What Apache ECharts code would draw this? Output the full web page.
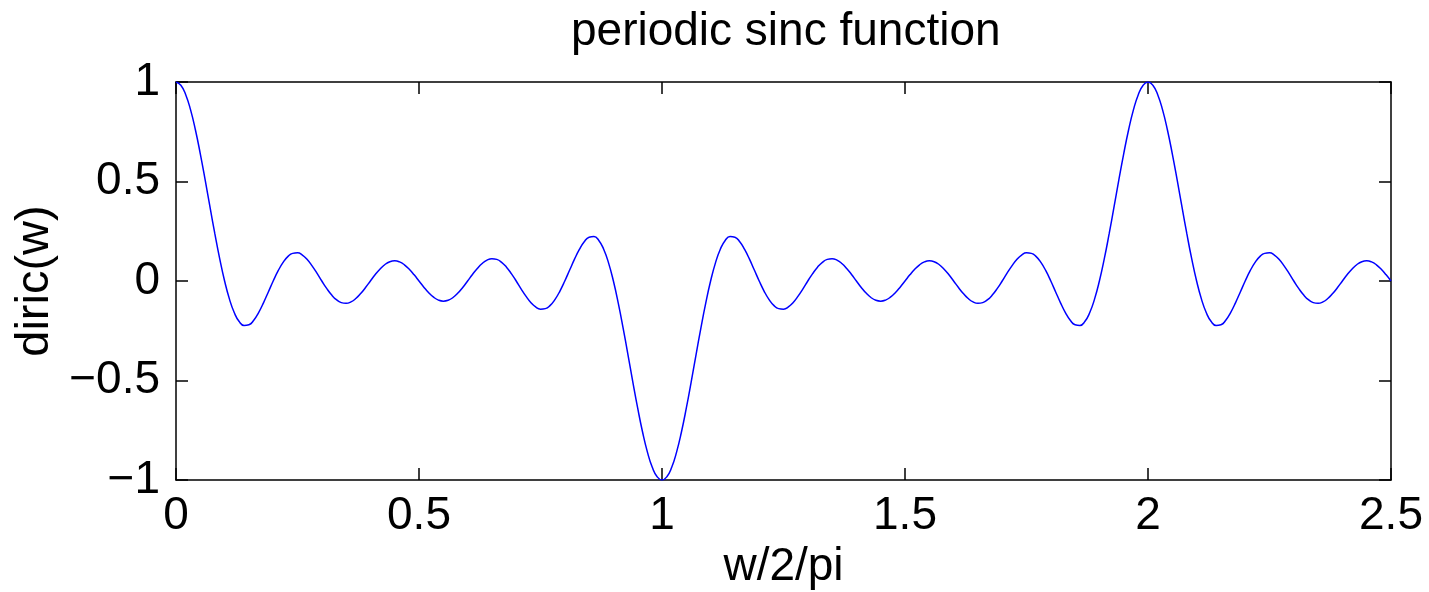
<!DOCTYPE html>
<html><head><meta charset="utf-8">
<script src="https://cdn.jsdelivr.net/npm/echarts@6/dist/echarts.min.js"></script>
<style>html,body{margin:0;padding:0;background:#fff}#c{width:1429px;height:592px}</style>
</head><body><div id="c"></div><script>
// sample spacing of the curve along w/2/pi
var xStart = 0, xStep = 0.01;
// diric(w) values, in five consecutive stretches of 0.5
var seg0to05 = [1,0.9838,0.9361,0.8597,0.7588,0.6392,0.5076,0.3709,0.2364,0.1108,0,-0.0912,-0.1597,-0.2037,-0.2234,-0.2203,-0.1974,-0.1589,-0.1097,-0.0550,0,0.0504,0.0922,0.1223,0.1389,0.1414,0.1305,0.1079,0.0763,0.0391,0,-0.0374,-0.0696,-0.0940,-0.1085,-0.1122,-0.1051,-0.0882,-0.0632,-0.0328,0,0.0322,0.0607,0.0829,0.0968,0.1012,0.0959,0.0813,0.0589,0.0309,0];
var seg05to1 = [-0.0309,-0.0589,-0.0813,-0.0959,-0.1012,-0.0968,-0.0829,-0.0607,-0.0322,0,0.0328,0.0632,0.0882,0.1051,0.1122,0.1085,0.0940,0.0696,0.0374,0,-0.0391,-0.0763,-0.1079,-0.1305,-0.1414,-0.1389,-0.1223,-0.0922,-0.0504,0,0.0550,0.1097,0.1589,0.1974,0.2203,0.2234,0.2037,0.1597,0.0912,0,-0.1108,-0.2364,-0.3709,-0.5076,-0.6392,-0.7588,-0.8597,-0.9361,-0.9838,-1];
var seg1to15 = [-0.9838,-0.9361,-0.8597,-0.7588,-0.6392,-0.5076,-0.3709,-0.2364,-0.1108,0,0.0912,0.1597,0.2037,0.2234,0.2203,0.1974,0.1589,0.1097,0.0550,0,-0.0504,-0.0922,-0.1223,-0.1389,-0.1414,-0.1305,-0.1079,-0.0763,-0.0391,0,0.0374,0.0696,0.0940,0.1085,0.1122,0.1051,0.0882,0.0632,0.0328,0,-0.0322,-0.0607,-0.0829,-0.0968,-0.1012,-0.0959,-0.0813,-0.0589,-0.0309,0];
var seg15to2 = [0.0309,0.0589,0.0813,0.0959,0.1012,0.0968,0.0829,0.0607,0.0322,0,-0.0328,-0.0632,-0.0882,-0.1051,-0.1122,-0.1085,-0.0940,-0.0696,-0.0374,0,0.0391,0.0763,0.1079,0.1305,0.1414,0.1389,0.1223,0.0922,0.0504,0,-0.0550,-0.1097,-0.1589,-0.1974,-0.2203,-0.2234,-0.2037,-0.1597,-0.0912,0,0.1108,0.2364,0.3709,0.5076,0.6392,0.7588,0.8597,0.9361,0.9838,1];
var seg2to25 = [0.9838,0.9361,0.8597,0.7588,0.6392,0.5076,0.3709,0.2364,0.1108,0,-0.0912,-0.1597,-0.2037,-0.2234,-0.2203,-0.1974,-0.1589,-0.1097,-0.0550,0,0.0504,0.0922,0.1223,0.1389,0.1414,0.1305,0.1079,0.0763,0.0391,0,-0.0374,-0.0696,-0.0940,-0.1085,-0.1122,-0.1051,-0.0882,-0.0632,-0.0328,0,0.0322,0.0607,0.0829,0.0968,0.1012,0.0959,0.0813,0.0589,0.0309,0];
var xTicks = [0, 0.5, 1, 1.5, 2, 2.5];
var yTicks = [-1, -0.5, 0, 0.5, 1];
var titleText = 'periodic sinc function';
var xName = 'w/2/pi';
var yName = 'diric(w)';

var yValues = seg0to05.concat(seg05to1, seg1to15, seg15to2, seg2to25);
var points = yValues.map(function (v, i) { return [+(xStart + i * xStep).toFixed(2), v]; });

var FONT = "'Liberation Sans', Arial, Helvetica, sans-serif";
function fmt(v) { return v < 0 ? '\u2212' + Math.abs(v) : String(v); }
var lineSt = { color: '#000', width: 1.5 };
function xAx(pos, main) {
  return {
    type: 'value', position: pos, min: xTicks[0], max: xTicks[xTicks.length - 1],
    interval: xTicks[1] - xTicks[0],
    axisLine: { show: true, onZero: false, lineStyle: lineSt },
    axisTick: { show: true, inside: true, length: 12, lineStyle: lineSt },
    axisLabel: { show: main, fontSize: 46, color: '#000', fontFamily: FONT, margin: 13, formatter: fmt, showMinLabel: true, showMaxLabel: true },
    splitLine: { show: false },
    name: main ? xName : '', nameLocation: 'middle', nameGap: 63,
    nameTextStyle: { fontSize: 46, color: '#000', fontFamily: FONT }
  };
}
function yAx(pos, main) {
  return {
    type: 'value', position: pos, min: yTicks[0], max: yTicks[yTicks.length - 1],
    interval: yTicks[1] - yTicks[0],
    axisLine: { show: true, onZero: false, lineStyle: lineSt },
    axisTick: { show: true, inside: true, length: 12, lineStyle: lineSt },
    axisLabel: { show: main, fontSize: 46, color: '#000', fontFamily: FONT, margin: 16, formatter: fmt, showMinLabel: true, showMaxLabel: true },
    splitLine: { show: false },
    name: main ? yName : '', nameLocation: 'middle', nameGap: 112, nameRotate: 90,
    nameTextStyle: { fontSize: 47, color: '#000', fontFamily: FONT }
  };
}
var chart = echarts.init(document.getElementById('c'), null, { renderer: 'canvas' });
chart.setOption({
  backgroundColor: '#fff',
  animation: false,
  title: { text: titleText, left: 566, top: 4, textStyle: { fontSize: 46, fontWeight: 'normal', color: '#000', fontFamily: FONT } },
  grid: { left: 176, right: 38, top: 82, bottom: 112, containLabel: false, outerBoundsMode: 'none' },
  xAxis: [xAx('bottom', true), xAx('top', false)],
  yAxis: [yAx('left', true), yAx('right', false)],
  series: [{
    type: 'line', data: points, showSymbol: false, smooth: true,
    lineStyle: { color: '#0000ff', width: 1.5 }, xAxisIndex: 0, yAxisIndex: 0
  }]
});
</script></body></html>
